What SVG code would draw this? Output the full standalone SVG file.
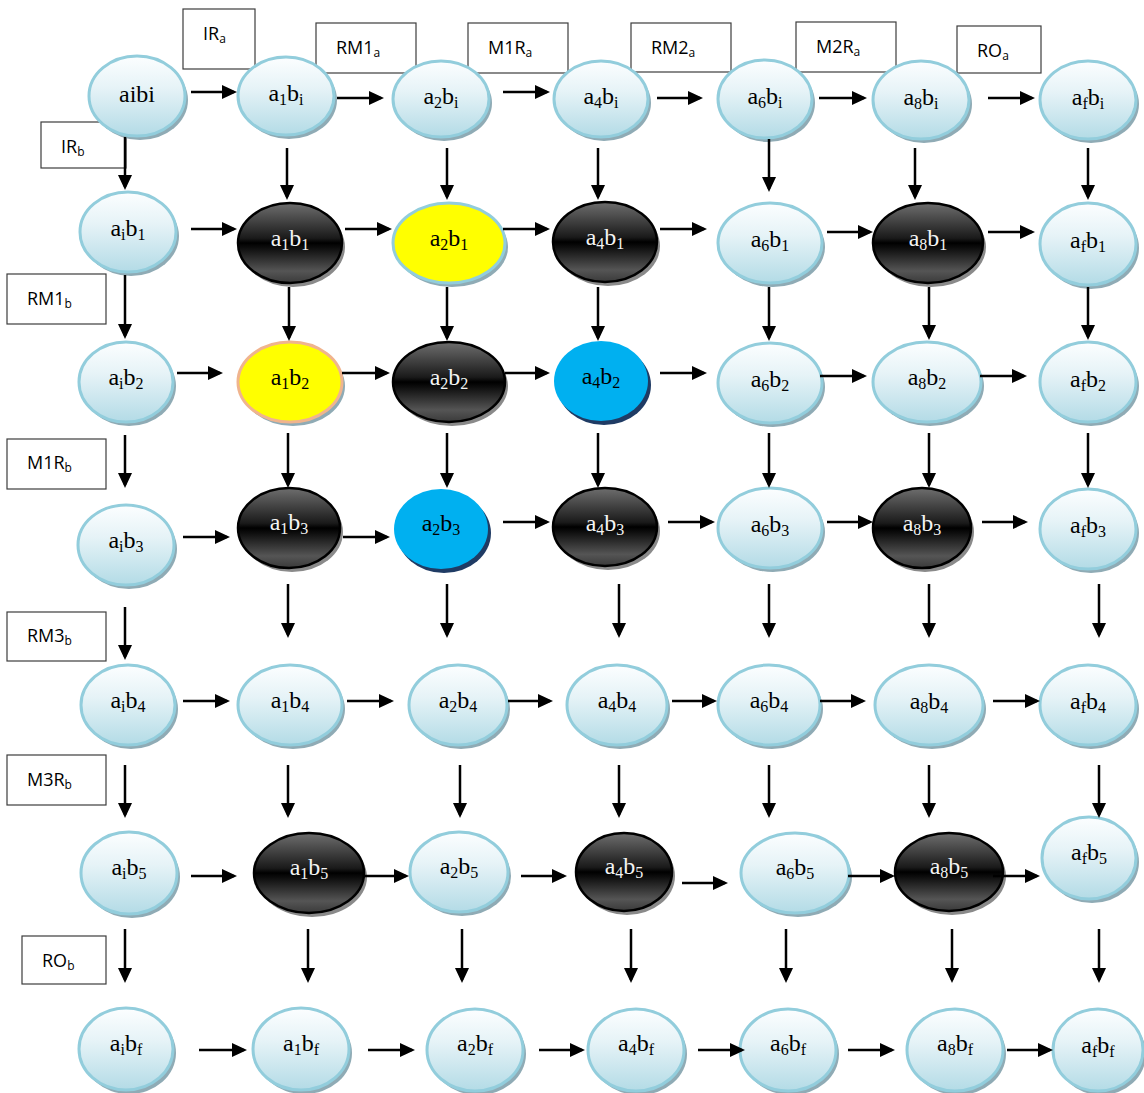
<svg xmlns="http://www.w3.org/2000/svg" width="1144" height="1093" viewBox="0 0 1144 1093">
<style>
.box{fill:#fff;stroke:#3c3c3c;stroke-width:1.2}
.lb{font-family:"Open Sans","Liberation Sans",sans-serif;font-size:18px;fill:#000}
.ls{font-size:12px}
.lt{fill:url(#gl);stroke:#92cddc;stroke-width:3}
.dk{fill:url(#gd);stroke:#000;stroke-width:2.5}
.yl{fill:#ffff00;stroke:#92cddc;stroke-width:3}
.yp{fill:#ffff00;stroke:#f0b48e;stroke-width:3}
.bl{fill:#00b0f0}
.shl{fill:#8fabb5}
.shd{fill:#8a8a8a}
.shb{fill:#1f3b64}
.t{font-family:"Liberation Serif","Times New Roman",serif;font-size:24px;text-anchor:middle;fill:#000}
.w{fill:#f4f4f4}
.s{font-size:16px}
.c line{stroke:#000;stroke-width:2.5;marker-end:url(#ah)}
</style>
<defs>
<linearGradient id="gl" x1="0" y1="0" x2="0" y2="1">
<stop offset="0" stop-color="#fcfeff"/>
<stop offset="0.4" stop-color="#e6f3f7"/>
<stop offset="1" stop-color="#b3dbe6"/>
</linearGradient>
<linearGradient id="gd" x1="0" y1="0" x2="0" y2="1">
<stop offset="0" stop-color="#6e6e6e"/>
<stop offset="0.44" stop-color="#1a1a1a"/>
<stop offset="0.5" stop-color="#000"/>
<stop offset="0.56" stop-color="#0d0d0d"/>
<stop offset="0.85" stop-color="#555"/>
<stop offset="1" stop-color="#3a3a3a"/>
</linearGradient>
<marker id="ah" viewBox="0 0 15 14" refX="12" refY="7" markerWidth="15" markerHeight="14" markerUnits="userSpaceOnUse" orient="auto">
<path d="M0,0 L15,7 L0,14 z" fill="#000"/>
</marker>
</defs>
<rect width="1144" height="1093" fill="#fff"/>

<g id="labels">
<g id="lab_IRa"><rect class="box" x="183" y="9" width="72" height="60"/><text class="lb" x="203" y="40">IR<tspan class="ls" dy="3">a</tspan></text></g>
<g id="lab_RM1a"><rect class="box" x="316" y="23" width="100" height="50"/><text class="lb" x="336" y="54">RM1<tspan class="ls" dy="3">a</tspan></text></g>
<g id="lab_M1Ra"><rect class="box" x="468" y="23" width="100" height="50"/><text class="lb" x="488" y="54">M1R<tspan class="ls" dy="3">a</tspan></text></g>
<g id="lab_RM2a"><rect class="box" x="631" y="23" width="100" height="49"/><text class="lb" x="651" y="54">RM2<tspan class="ls" dy="3">a</tspan></text></g>
<g id="lab_M2Ra"><rect class="box" x="796" y="22" width="100" height="50"/><text class="lb" x="816" y="53">M2R<tspan class="ls" dy="3">a</tspan></text></g>
<g id="lab_ROa"><rect class="box" x="957" y="26" width="84" height="47"/><text class="lb" x="977" y="57">RO<tspan class="ls" dy="3">a</tspan></text></g>
<g id="lab_IRb"><rect class="box" x="41" y="122" width="85" height="46"/><text class="lb" x="61" y="153">IR<tspan class="ls" dy="3">b</tspan></text></g>
<g id="lab_RM1b"><rect class="box" x="7" y="274" width="99" height="50"/><text class="lb" x="27" y="305">RM1<tspan class="ls" dy="3">b</tspan></text></g>
<g id="lab_M1Rb"><rect class="box" x="7" y="439" width="99" height="50"/><text class="lb" x="27" y="469">M1R<tspan class="ls" dy="3">b</tspan></text></g>
<g id="lab_RM3b"><rect class="box" x="7" y="612" width="99" height="49"/><text class="lb" x="27" y="642">RM3<tspan class="ls" dy="3">b</tspan></text></g>
<g id="lab_M3Rb"><rect class="box" x="7" y="755" width="99" height="50"/><text class="lb" x="27" y="786">M3R<tspan class="ls" dy="3">b</tspan></text></g>
<g id="lab_ROb"><rect class="box" x="22" y="936" width="84" height="48"/><text class="lb" x="42" y="967">RO<tspan class="ls" dy="3">b</tspan></text></g>
</g>

<g id="nodes">
<!-- row bi -->
<g id="n_aibi"><ellipse class="shl" cx="140" cy="100" rx="48" ry="40"/><ellipse class="lt" cx="137" cy="96" rx="48" ry="40"/><text class="t" x="137" y="102">aibi</text></g>
<g id="n_a1bi"><ellipse class="shl" cx="289" cy="100" rx="48" ry="39"/><ellipse class="lt" cx="286" cy="96" rx="48" ry="39"/><text class="t" x="286" y="101">a<tspan class="s" dy="4">1</tspan><tspan dy="-4">b</tspan><tspan class="s" dy="4">i</tspan></text></g>
<g id="n_a2bi"><ellipse class="shl" cx="444" cy="103" rx="48" ry="38"/><ellipse class="lt" cx="441" cy="99" rx="48" ry="38"/><text class="t" x="441" y="104">a<tspan class="s" dy="4">2</tspan><tspan dy="-4">b</tspan><tspan class="s" dy="4">i</tspan></text></g>
<g id="n_a4bi"><ellipse class="shl" cx="604" cy="103" rx="47" ry="38"/><ellipse class="lt" cx="601" cy="99" rx="47" ry="38"/><text class="t" x="601" y="104">a<tspan class="s" dy="4">4</tspan><tspan dy="-4">b</tspan><tspan class="s" dy="4">i</tspan></text></g>
<g id="n_a6bi"><ellipse class="shl" cx="768" cy="103" rx="47" ry="39"/><ellipse class="lt" cx="765" cy="99" rx="47" ry="39"/><text class="t" x="765" y="104">a<tspan class="s" dy="4">6</tspan><tspan dy="-4">b</tspan><tspan class="s" dy="4">i</tspan></text></g>
<g id="n_a8bi"><ellipse class="shl" cx="924" cy="104" rx="48" ry="39"/><ellipse class="lt" cx="921" cy="100" rx="48" ry="39"/><text class="t" x="921" y="105">a<tspan class="s" dy="4">8</tspan><tspan dy="-4">b</tspan><tspan class="s" dy="4">i</tspan></text></g>
<g id="n_afbi"><ellipse class="shl" cx="1091" cy="104" rx="48" ry="39"/><ellipse class="lt" cx="1088" cy="100" rx="48" ry="39"/><text class="t" x="1088" y="105">a<tspan class="s" dy="4">f</tspan><tspan dy="-4">b</tspan><tspan class="s" dy="4">i</tspan></text></g>
<!-- row b1 -->
<g id="n_aib1"><ellipse class="shl" cx="131" cy="236" rx="48" ry="40"/><ellipse class="lt" cx="128" cy="232" rx="48" ry="40"/><text class="t" x="128" y="236">a<tspan class="s" dy="4">i</tspan><tspan dy="-4">b</tspan><tspan class="s" dy="4">1</tspan></text></g>
<g id="n_a1b1"><ellipse class="shd" cx="293" cy="247" rx="52" ry="40"/><ellipse class="dk" cx="290" cy="243" rx="52" ry="40"/><text class="t w" x="290" y="246">a<tspan class="s" dy="4">1</tspan><tspan dy="-4">b</tspan><tspan class="s" dy="4">1</tspan></text></g>
<g id="n_a2b1"><ellipse class="shl" cx="452" cy="247" rx="56" ry="40"/><ellipse class="yl" cx="449" cy="243" rx="56" ry="40"/><text class="t" x="449" y="246">a<tspan class="s" dy="4">2</tspan><tspan dy="-4">b</tspan><tspan class="s" dy="4">1</tspan></text></g>
<g id="n_a4b1"><ellipse class="shd" cx="608" cy="246" rx="52" ry="40"/><ellipse class="dk" cx="605" cy="242" rx="52" ry="40"/><text class="t w" x="605" y="245">a<tspan class="s" dy="4">4</tspan><tspan dy="-4">b</tspan><tspan class="s" dy="4">1</tspan></text></g>
<g id="n_a6b1"><ellipse class="shl" cx="773" cy="247" rx="52" ry="40"/><ellipse class="lt" cx="770" cy="243" rx="52" ry="40"/><text class="t" x="770" y="247">a<tspan class="s" dy="4">6</tspan><tspan dy="-4">b</tspan><tspan class="s" dy="4">1</tspan></text></g>
<g id="n_a8b1"><ellipse class="shd" cx="931" cy="247" rx="55" ry="40"/><ellipse class="dk" cx="928" cy="243" rx="55" ry="40"/><text class="t w" x="928" y="246">a<tspan class="s" dy="4">8</tspan><tspan dy="-4">b</tspan><tspan class="s" dy="4">1</tspan></text></g>
<g id="n_afb1"><ellipse class="shl" cx="1091" cy="248" rx="48" ry="41"/><ellipse class="lt" cx="1088" cy="244" rx="48" ry="41"/><text class="t" x="1088" y="248">a<tspan class="s" dy="4">f</tspan><tspan dy="-4">b</tspan><tspan class="s" dy="4">1</tspan></text></g>
<!-- row b2 -->
<g id="n_aib2"><ellipse class="shl" cx="129" cy="386" rx="47" ry="40"/><ellipse class="lt" cx="126" cy="382" rx="47" ry="40"/><text class="t" x="126" y="385">a<tspan class="s" dy="4">i</tspan><tspan dy="-4">b</tspan><tspan class="s" dy="4">2</tspan></text></g>
<g id="n_a1b2"><ellipse class="shl" cx="293" cy="386" rx="52" ry="40"/><ellipse class="yp" cx="290" cy="382" rx="52" ry="40"/><text class="t" x="290" y="385">a<tspan class="s" dy="4">1</tspan><tspan dy="-4">b</tspan><tspan class="s" dy="4">2</tspan></text></g>
<g id="n_a2b2"><ellipse class="shd" cx="452" cy="386" rx="56" ry="40"/><ellipse class="dk" cx="449" cy="382" rx="56" ry="40"/><text class="t w" x="449" y="385">a<tspan class="s" dy="4">2</tspan><tspan dy="-4">b</tspan><tspan class="s" dy="4">2</tspan></text></g>
<g id="n_a4b2"><ellipse class="shb" cx="604" cy="385" rx="47" ry="40"/><ellipse class="bl" cx="601" cy="381" rx="47" ry="40"/><text class="t" x="601" y="384">a<tspan class="s" dy="4">4</tspan><tspan dy="-4">b</tspan><tspan class="s" dy="4">2</tspan></text></g>
<g id="n_a6b2"><ellipse class="shl" cx="773" cy="387" rx="52" ry="40"/><ellipse class="lt" cx="770" cy="383" rx="52" ry="40"/><text class="t" x="770" y="387">a<tspan class="s" dy="4">6</tspan><tspan dy="-4">b</tspan><tspan class="s" dy="4">2</tspan></text></g>
<g id="n_a8b2"><ellipse class="shl" cx="930" cy="386" rx="54" ry="40"/><ellipse class="lt" cx="927" cy="382" rx="54" ry="40"/><text class="t" x="927" y="385">a<tspan class="s" dy="4">8</tspan><tspan dy="-4">b</tspan><tspan class="s" dy="4">2</tspan></text></g>
<g id="n_afb2"><ellipse class="shl" cx="1091" cy="386" rx="48" ry="40"/><ellipse class="lt" cx="1088" cy="382" rx="48" ry="40"/><text class="t" x="1088" y="387">a<tspan class="s" dy="4">f</tspan><tspan dy="-4">b</tspan><tspan class="s" dy="4">2</tspan></text></g>
<!-- row b3 -->
<g id="n_aib3"><ellipse class="shl" cx="129" cy="549" rx="48" ry="40"/><ellipse class="lt" cx="126" cy="545" rx="48" ry="40"/><text class="t" x="126" y="548">a<tspan class="s" dy="4">i</tspan><tspan dy="-4">b</tspan><tspan class="s" dy="4">3</tspan></text></g>
<g id="n_a1b3"><ellipse class="shd" cx="292" cy="532" rx="51" ry="40"/><ellipse class="dk" cx="289" cy="528" rx="51" ry="40"/><text class="t w" x="289" y="530">a<tspan class="s" dy="4">1</tspan><tspan dy="-4">b</tspan><tspan class="s" dy="4">3</tspan></text></g>
<g id="n_a2b3"><ellipse class="shb" cx="444" cy="533" rx="47" ry="40"/><ellipse class="bl" cx="441" cy="529" rx="47" ry="40"/><text class="t" x="441" y="531">a<tspan class="s" dy="4">2</tspan><tspan dy="-4">b</tspan><tspan class="s" dy="4">3</tspan></text></g>
<g id="n_a4b3"><ellipse class="shd" cx="608" cy="531" rx="52" ry="39"/><ellipse class="dk" cx="605" cy="527" rx="52" ry="39"/><text class="t w" x="605" y="531">a<tspan class="s" dy="4">4</tspan><tspan dy="-4">b</tspan><tspan class="s" dy="4">3</tspan></text></g>
<g id="n_a6b3"><ellipse class="shl" cx="773" cy="532" rx="52" ry="40"/><ellipse class="lt" cx="770" cy="528" rx="52" ry="40"/><text class="t" x="770" y="532">a<tspan class="s" dy="4">6</tspan><tspan dy="-4">b</tspan><tspan class="s" dy="4">3</tspan></text></g>
<g id="n_a8b3"><ellipse class="shd" cx="925" cy="532" rx="49" ry="40"/><ellipse class="dk" cx="922" cy="528" rx="49" ry="40"/><text class="t w" x="922" y="531">a<tspan class="s" dy="4">8</tspan><tspan dy="-4">b</tspan><tspan class="s" dy="4">3</tspan></text></g>
<g id="n_afb3"><ellipse class="shl" cx="1091" cy="533" rx="48" ry="40"/><ellipse class="lt" cx="1088" cy="529" rx="48" ry="40"/><text class="t" x="1088" y="533">a<tspan class="s" dy="4">f</tspan><tspan dy="-4">b</tspan><tspan class="s" dy="4">3</tspan></text></g>
<!-- row b4 -->
<g id="n_aib4"><ellipse class="shl" cx="131" cy="709" rx="47" ry="40"/><ellipse class="lt" cx="128" cy="705" rx="47" ry="40"/><text class="t" x="128" y="708">a<tspan class="s" dy="4">i</tspan><tspan dy="-4">b</tspan><tspan class="s" dy="4">4</tspan></text></g>
<g id="n_a1b4"><ellipse class="shl" cx="293" cy="709" rx="52" ry="40"/><ellipse class="lt" cx="290" cy="705" rx="52" ry="40"/><text class="t" x="290" y="708">a<tspan class="s" dy="4">1</tspan><tspan dy="-4">b</tspan><tspan class="s" dy="4">4</tspan></text></g>
<g id="n_a2b4"><ellipse class="shl" cx="461" cy="709" rx="49" ry="40"/><ellipse class="lt" cx="458" cy="705" rx="49" ry="40"/><text class="t" x="458" y="708">a<tspan class="s" dy="4">2</tspan><tspan dy="-4">b</tspan><tspan class="s" dy="4">4</tspan></text></g>
<g id="n_a4b4"><ellipse class="shl" cx="620" cy="709" rx="50" ry="40"/><ellipse class="lt" cx="617" cy="705" rx="50" ry="40"/><text class="t" x="617" y="708">a<tspan class="s" dy="4">4</tspan><tspan dy="-4">b</tspan><tspan class="s" dy="4">4</tspan></text></g>
<g id="n_a6b4"><ellipse class="shl" cx="772" cy="709" rx="51" ry="40"/><ellipse class="lt" cx="769" cy="705" rx="51" ry="40"/><text class="t" x="769" y="708">a<tspan class="s" dy="4">6</tspan><tspan dy="-4">b</tspan><tspan class="s" dy="4">4</tspan></text></g>
<g id="n_a8b4"><ellipse class="shl" cx="932" cy="709" rx="54" ry="40"/><ellipse class="lt" cx="929" cy="705" rx="54" ry="40"/><text class="t" x="929" y="709">a<tspan class="s" dy="4">8</tspan><tspan dy="-4">b</tspan><tspan class="s" dy="4">4</tspan></text></g>
<g id="n_afb4"><ellipse class="shl" cx="1091" cy="709" rx="48" ry="40"/><ellipse class="lt" cx="1088" cy="705" rx="48" ry="40"/><text class="t" x="1088" y="709">a<tspan class="s" dy="4">f</tspan><tspan dy="-4">b</tspan><tspan class="s" dy="4">4</tspan></text></g>
<!-- row b5 -->
<g id="n_aib5"><ellipse class="shl" cx="132" cy="877" rx="48" ry="41"/><ellipse class="lt" cx="129" cy="873" rx="48" ry="41"/><text class="t" x="129" y="875">a<tspan class="s" dy="4">i</tspan><tspan dy="-4">b</tspan><tspan class="s" dy="4">5</tspan></text></g>
<g id="n_a1b5"><ellipse class="shd" cx="312" cy="877" rx="55" ry="40"/><ellipse class="dk" cx="309" cy="873" rx="55" ry="40"/><text class="t w" x="309" y="875">a<tspan class="s" dy="4">1</tspan><tspan dy="-4">b</tspan><tspan class="s" dy="4">5</tspan></text></g>
<g id="n_a2b5"><ellipse class="shl" cx="462" cy="876" rx="49" ry="40"/><ellipse class="lt" cx="459" cy="872" rx="49" ry="40"/><text class="t" x="459" y="874">a<tspan class="s" dy="4">2</tspan><tspan dy="-4">b</tspan><tspan class="s" dy="4">5</tspan></text></g>
<g id="n_a4b5"><ellipse class="shd" cx="627" cy="876" rx="48" ry="39"/><ellipse class="dk" cx="624" cy="872" rx="48" ry="39"/><text class="t w" x="624" y="874">a<tspan class="s" dy="4">4</tspan><tspan dy="-4">b</tspan><tspan class="s" dy="4">5</tspan></text></g>
<g id="n_a6b5"><ellipse class="shl" cx="798" cy="877" rx="54" ry="40"/><ellipse class="lt" cx="795" cy="873" rx="54" ry="40"/><text class="t" x="795" y="875">a<tspan class="s" dy="4">6</tspan><tspan dy="-4">b</tspan><tspan class="s" dy="4">5</tspan></text></g>
<g id="n_a8b5"><ellipse class="shd" cx="952" cy="876" rx="54" ry="39"/><ellipse class="dk" cx="949" cy="872" rx="54" ry="39"/><text class="t w" x="949" y="874">a<tspan class="s" dy="4">8</tspan><tspan dy="-4">b</tspan><tspan class="s" dy="4">5</tspan></text></g>
<g id="n_afb5"><ellipse class="shl" cx="1092" cy="862" rx="47" ry="41"/><ellipse class="lt" cx="1089" cy="858" rx="47" ry="41"/><text class="t" x="1089" y="860">a<tspan class="s" dy="4">f</tspan><tspan dy="-4">b</tspan><tspan class="s" dy="4">5</tspan></text></g>
<!-- row bf -->
<g id="n_aibf"><ellipse class="shl" cx="129" cy="1053" rx="47" ry="41"/><ellipse class="lt" cx="126" cy="1049" rx="47" ry="41"/><text class="t" x="126" y="1051">a<tspan class="s" dy="4">i</tspan><tspan dy="-4">b</tspan><tspan class="s" dy="4">f</tspan></text></g>
<g id="n_a1bf"><ellipse class="shl" cx="304" cy="1053" rx="48" ry="41"/><ellipse class="lt" cx="301" cy="1049" rx="48" ry="41"/><text class="t" x="301" y="1051">a<tspan class="s" dy="4">1</tspan><tspan dy="-4">b</tspan><tspan class="s" dy="4">f</tspan></text></g>
<g id="n_a2bf"><ellipse class="shl" cx="478" cy="1054" rx="48" ry="41"/><ellipse class="lt" cx="475" cy="1050" rx="48" ry="41"/><text class="t" x="475" y="1051">a<tspan class="s" dy="4">2</tspan><tspan dy="-4">b</tspan><tspan class="s" dy="4">f</tspan></text></g>
<g id="n_a4bf"><ellipse class="shl" cx="639" cy="1054" rx="48" ry="41"/><ellipse class="lt" cx="636" cy="1050" rx="48" ry="41"/><text class="t" x="636" y="1051">a<tspan class="s" dy="4">4</tspan><tspan dy="-4">b</tspan><tspan class="s" dy="4">f</tspan></text></g>
<g id="n_a6bf"><ellipse class="shl" cx="791" cy="1054" rx="48" ry="41"/><ellipse class="lt" cx="788" cy="1050" rx="48" ry="41"/><text class="t" x="788" y="1051">a<tspan class="s" dy="4">6</tspan><tspan dy="-4">b</tspan><tspan class="s" dy="4">f</tspan></text></g>
<g id="n_a8bf"><ellipse class="shl" cx="958" cy="1054" rx="48" ry="41"/><ellipse class="lt" cx="955" cy="1050" rx="48" ry="41"/><text class="t" x="955" y="1051">a<tspan class="s" dy="4">8</tspan><tspan dy="-4">b</tspan><tspan class="s" dy="4">f</tspan></text></g>
<g id="n_afbf"><ellipse class="shl" cx="1101" cy="1054" rx="45" ry="41"/><ellipse class="lt" cx="1098" cy="1050" rx="45" ry="41"/><text class="t" x="1098" y="1053">a<tspan class="s" dy="4">f</tspan><tspan dy="-4">b</tspan><tspan class="s" dy="4">f</tspan></text></g>
</g>

<g id="connectors" class="c">
<!-- row bi horizontal -->
<line x1="191" y1="92" x2="234" y2="92"/>
<line x1="337" y1="98" x2="381" y2="98"/>
<line x1="503" y1="92" x2="547" y2="92"/>
<line x1="657" y1="98" x2="700" y2="98"/>
<line x1="819" y1="98" x2="864" y2="98"/>
<line x1="988" y1="98" x2="1032" y2="98"/>
<!-- bi to b1 -->
<line x1="125" y1="137" x2="125" y2="187"/>
<line x1="287" y1="148" x2="287" y2="197"/>
<line x1="447" y1="148" x2="447" y2="197"/>
<line x1="598" y1="148" x2="598" y2="197"/>
<line x1="769" y1="139" x2="769" y2="189"/>
<line x1="915" y1="148" x2="915" y2="197"/>
<line x1="1088" y1="148" x2="1088" y2="197"/>
<!-- row b1 horizontal -->
<line x1="191" y1="229" x2="234" y2="229"/>
<line x1="345" y1="229" x2="389" y2="229"/>
<line x1="503" y1="229" x2="547" y2="229"/>
<line x1="660" y1="229" x2="704" y2="229"/>
<line x1="827" y1="232" x2="870" y2="232"/>
<line x1="988" y1="232" x2="1032" y2="232"/>
<!-- b1 to b2 -->
<line x1="125" y1="275" x2="125" y2="336"/>
<line x1="289" y1="287" x2="289" y2="338"/>
<line x1="447" y1="287" x2="447" y2="338"/>
<line x1="598" y1="287" x2="598" y2="338"/>
<line x1="769" y1="287" x2="769" y2="338"/>
<line x1="929" y1="287" x2="929" y2="337"/>
<line x1="1088" y1="287" x2="1088" y2="337"/>
<!-- row b2 horizontal -->
<line x1="177" y1="373" x2="220" y2="373"/>
<line x1="342" y1="373" x2="387" y2="373"/>
<line x1="505" y1="373" x2="547" y2="373"/>
<line x1="660" y1="373" x2="704" y2="373"/>
<line x1="820" y1="376" x2="864" y2="376"/>
<line x1="980" y1="376" x2="1024" y2="376"/>
<!-- b2 to b3 -->
<line x1="125" y1="435" x2="125" y2="485"/>
<line x1="288" y1="433" x2="288" y2="485"/>
<line x1="447" y1="433" x2="447" y2="485"/>
<line x1="598" y1="433" x2="598" y2="485"/>
<line x1="769" y1="433" x2="769" y2="485"/>
<line x1="929" y1="433" x2="929" y2="485"/>
<line x1="1088" y1="433" x2="1088" y2="485"/>
<!-- row b3 horizontal -->
<line x1="183" y1="537" x2="227" y2="537"/>
<line x1="343" y1="537" x2="387" y2="537"/>
<line x1="503" y1="522" x2="547" y2="522"/>
<line x1="668" y1="522" x2="712" y2="522"/>
<line x1="827" y1="522" x2="870" y2="522"/>
<line x1="982" y1="522" x2="1025" y2="522"/>
<!-- b3 to b4 -->
<line x1="125" y1="607" x2="125" y2="657"/>
<line x1="288" y1="584" x2="288" y2="635"/>
<line x1="447" y1="584" x2="447" y2="635"/>
<line x1="619" y1="584" x2="619" y2="635"/>
<line x1="769" y1="584" x2="769" y2="635"/>
<line x1="929" y1="584" x2="929" y2="635"/>
<line x1="1099" y1="584" x2="1099" y2="635"/>
<!-- row b4 horizontal -->
<line x1="183" y1="701" x2="227" y2="701"/>
<line x1="347" y1="701" x2="391" y2="701"/>
<line x1="508" y1="701" x2="550" y2="701"/>
<line x1="672" y1="701" x2="714" y2="701"/>
<line x1="820" y1="701" x2="863" y2="701"/>
<line x1="993" y1="701" x2="1037" y2="701"/>
<!-- b4 to b5 -->
<line x1="125" y1="765" x2="125" y2="815"/>
<line x1="288" y1="765" x2="288" y2="815"/>
<line x1="460" y1="765" x2="460" y2="815"/>
<line x1="619" y1="765" x2="619" y2="815"/>
<line x1="769" y1="765" x2="769" y2="815"/>
<line x1="929" y1="765" x2="929" y2="815"/>
<line x1="1099" y1="765" x2="1099" y2="815"/>
<!-- row b5 horizontal -->
<line x1="191" y1="876" x2="234" y2="876"/>
<line x1="364" y1="876" x2="406" y2="876"/>
<line x1="521" y1="876" x2="564" y2="876"/>
<line x1="682" y1="883" x2="725" y2="883"/>
<line x1="848" y1="876" x2="892" y2="876"/>
<line x1="993" y1="876" x2="1037" y2="876"/>
<!-- b5 to bf -->
<line x1="125" y1="929" x2="125" y2="980"/>
<line x1="308" y1="929" x2="308" y2="980"/>
<line x1="462" y1="929" x2="462" y2="980"/>
<line x1="631" y1="929" x2="631" y2="980"/>
<line x1="786" y1="929" x2="786" y2="980"/>
<line x1="952" y1="929" x2="952" y2="980"/>
<line x1="1099" y1="929" x2="1099" y2="980"/>
<!-- row bf horizontal -->
<line x1="199" y1="1050" x2="244" y2="1050"/>
<line x1="368" y1="1050" x2="412" y2="1050"/>
<line x1="539" y1="1050" x2="582" y2="1050"/>
<line x1="698" y1="1050" x2="742" y2="1050"/>
<line x1="848" y1="1050" x2="892" y2="1050"/>
<line x1="1007" y1="1050" x2="1050" y2="1050"/>
</g>
</svg>
